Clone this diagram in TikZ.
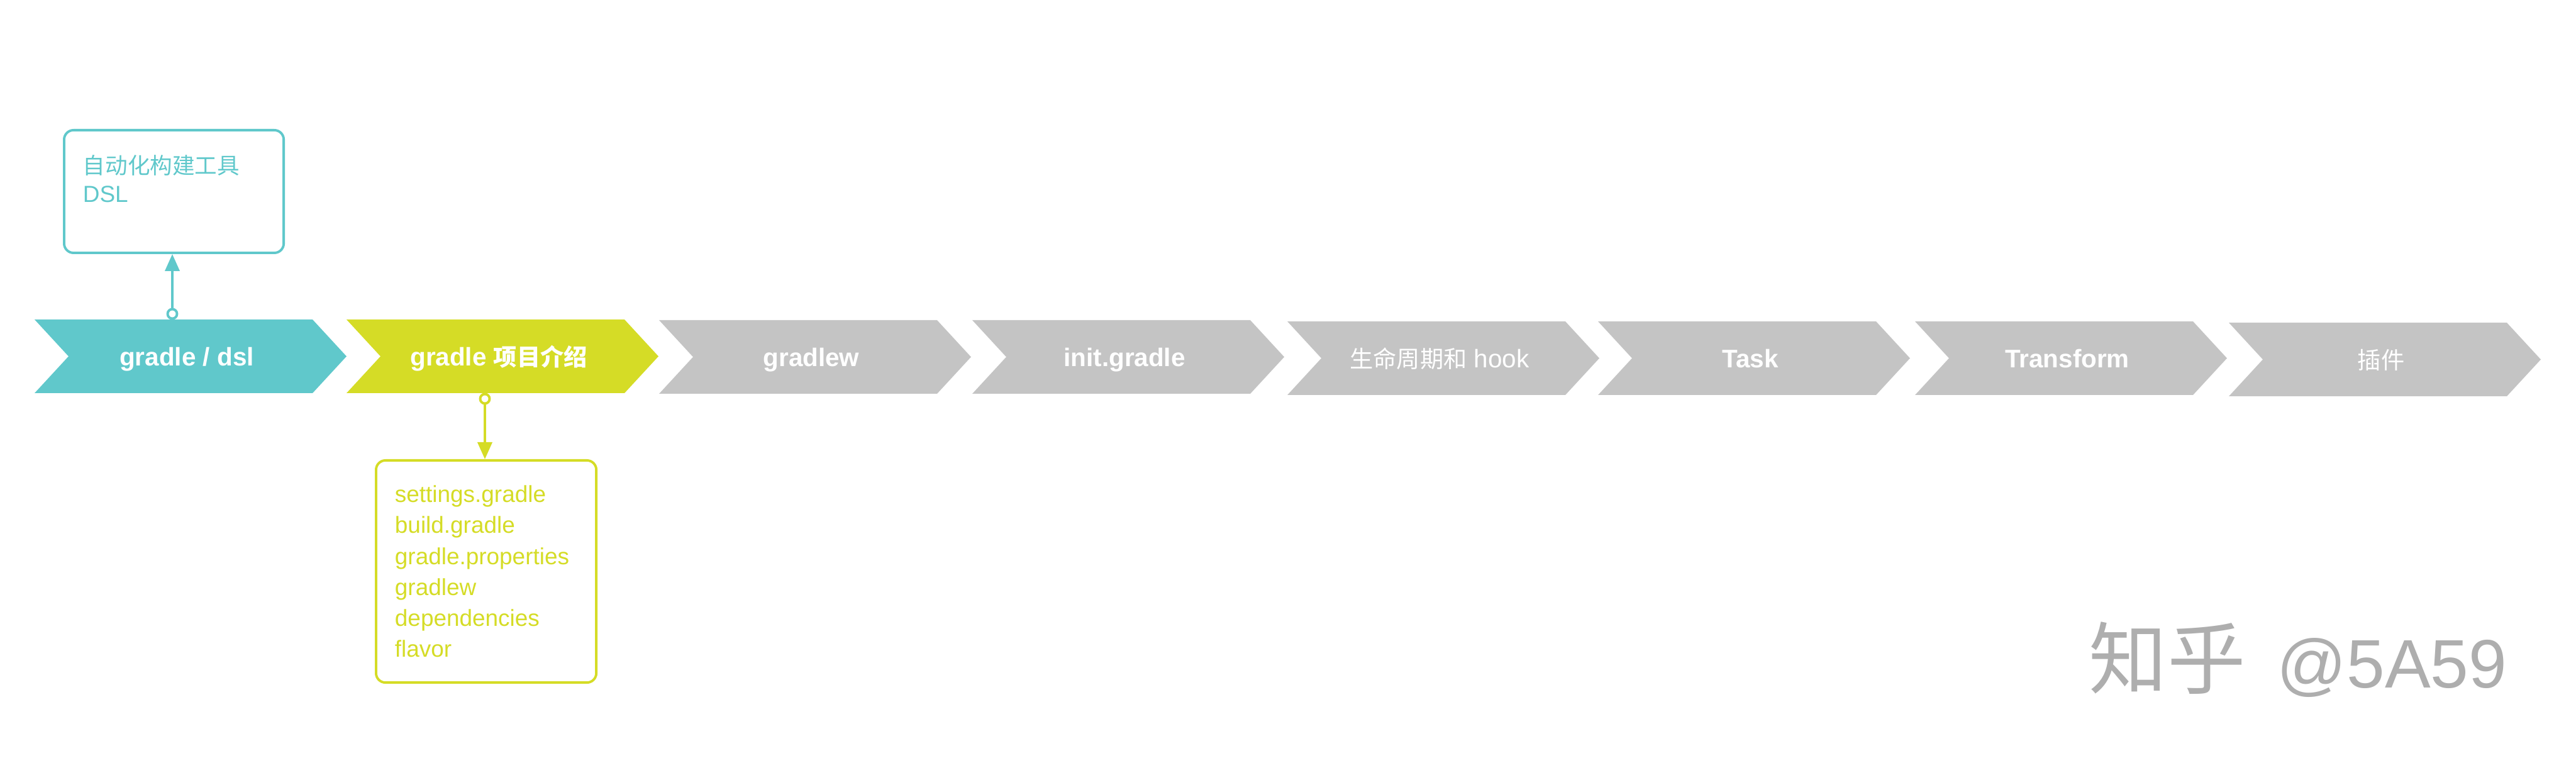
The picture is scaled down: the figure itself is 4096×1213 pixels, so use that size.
\documentclass[tikz,border=0pt]{standalone}
\usepackage{fontspec}
\setmainfont{Liberation Sans}
\newfontfamily\cjk[Scale=0.92]{Noto Sans CJK SC}
\usetikzlibrary{arrows.meta}

\definecolor{dslteal}{HTML}{60C8CB}
\definecolor{introlime}{HTML}{D5DC26}
\definecolor{stagegray}{HTML}{C4C4C4}
\definecolor{markgray}{HTML}{AEAEAE}

\begin{document}
\begin{tikzpicture}[x=0.01cm, y=-0.01cm,
    stage/.style ={text=white, anchor=base, font=\fontsize{11.5}{14}\selectfont\bfseries},
    note/.style ={draw, rounded corners=0.15cm, line width=1.1pt, align=left,
                  inner xsep=0.3cm, inner ysep=0pt, anchor=north west},
    joint/.style ={circle, draw, line width=1.1pt, fill=white, inner sep=0pt, minimum size=0.15cm},
    link/.style ={line width=1.1pt, -{Triangle[length=0.27cm, width=0.23cm]}}]
   \useasboundingbox (0,0) rectangle (4096,1213);
   % the eight stages
   \foreach \n/\x/\y/\c/\t in {dsl/55/508/dslteal/{gradle / dsl},
                               intro/551/508/introlime/{gradle {\cjk 项目介绍}},
                               gradlew/1048/509/stagegray/{gradlew},
                               init/1546/509/stagegray/{init.gradle},
                               hook/2047/511/stagegray/{\mdseries{\cjk 生命周期和} hook},
                               task/2541/511/stagegray/{Task},
                               transform/3045/511/stagegray/{Transform},
                               plugin/3544/513/stagegray/{\mdseries\cjk 插件}}
   {
      \fill[\c] (\x,\y) -- ++(442,0) -- ++(54,58.5) -- ++(-54,58.5) -- ++(-442,0) -- ++(54,-58.5) -- cycle;
      \node[stage] (\n) at (\x+242,\y+74) {\t};
   }
   % notes
   \node[note, draw=dslteal, text=dslteal, text width=2.89cm, text height=0.70cm, text depth=1.25cm,
         font=\fontsize{10.5}{12.8}\selectfont] (dslnote) at (100,205)
         {{\fontsize{11}{12.8}\selectfont\cjk 自动化构建工具}\\DSL};
   \node[note, draw=introlime, text=introlime, text width=2.90cm, text height=0.67cm, text depth=2.86cm,
         font=\fontsize{10.5}{13.94}\selectfont] (intronote) at (596,730)
         {settings.gradle\\build.gradle\\gradle.properties\\gradlew\\dependencies\\flavor};
   \node[joint, draw=dslteal] (dsljoint) at (274,499) {};
   \node[joint, draw=introlime] (introjoint) at (771,634) {};
   \draw[link, dslteal] (dsljoint) -- (dsljoint |- dslnote.south);
   \draw[link, introlime] (introjoint) -- (introjoint |- intronote.north);
   % watermark
   \node[text=markgray, anchor=base] (mark) at (3654,1093)
         {{\fontsize{38.5}{39}\selectfont\cjk 知乎}\hspace{0.5cm}{\fontsize{31}{31}\selectfont @5A59}};
\end{tikzpicture}
\end{document}
